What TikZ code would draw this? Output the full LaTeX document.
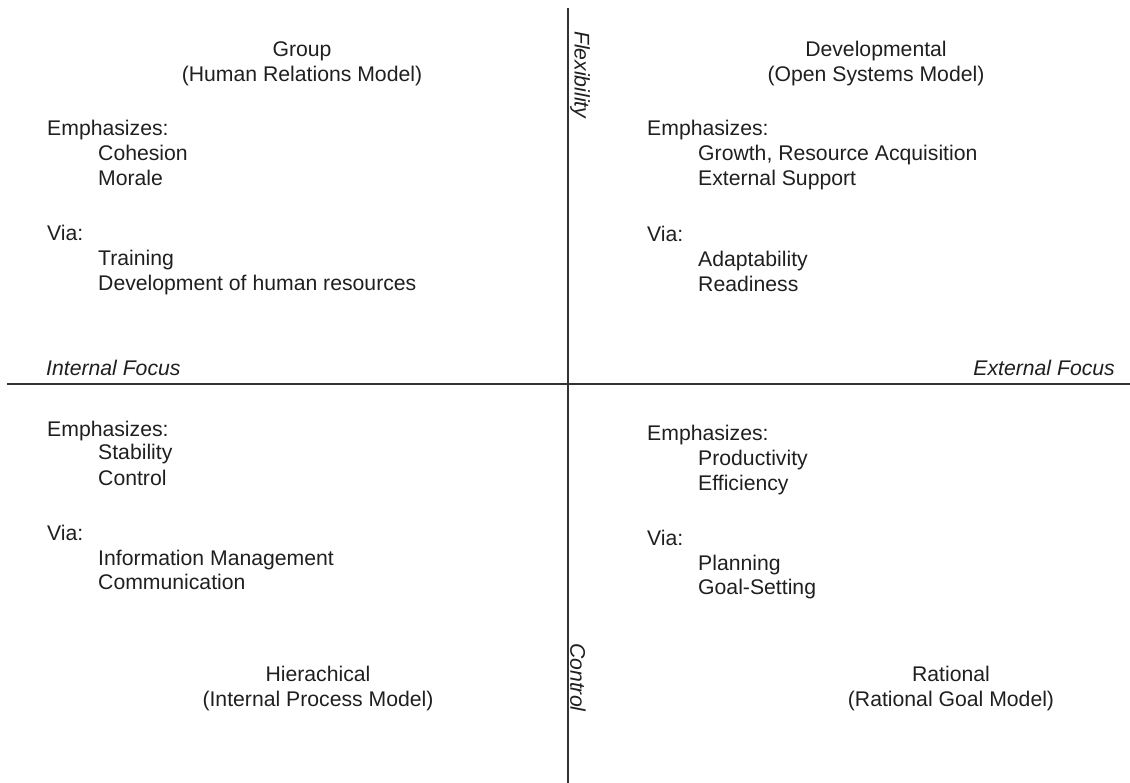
\documentclass[tikz,border=0pt]{standalone}
\usepackage{fontspec}
\setmainfont{Liberation Sans}
\begin{document}
\begin{tikzpicture}[x=1pt,y=-1pt,
  txt/.style={inner sep=0pt,anchor=base west,font=\fontsize{21.2}{25}\selectfont,text=black!88},
  ttl/.style={inner sep=0pt,anchor=base,font=\fontsize{21.2}{25}\selectfont,text=black!88},
  axl/.style={inner sep=0pt,font=\fontsize{21.2}{25}\selectfont\itshape,text=black!88},
  axis/.style={line width=1.4pt,draw=black!80}]
\useasboundingbox (0,0) rectangle (1130,783);
\coordinate (vt) at (568,8);
\coordinate (vb) at (568,783);
\coordinate (hl) at (7,384);
\coordinate (hr) at (1130,384);
\draw[axis] (vt) -- (vb);
\draw[axis] (hl) -- (hr);
% axis labels
\node[axl,rotate=-90,anchor=south west] (flex) at (570,31) {Flexibility};
\node[axl,rotate=-90,anchor=south west] (ctrl) at (570,643) {Control};
\node[axl,anchor=base west] (intf) at (46,376) {Internal Focus};
\node[axl,anchor=base east] (extf) at (1115,376) {External Focus};
% top left
\node[ttl] (g1) at (302,57) {Group};
\node[ttl] (g2) at (302,82) {(Human Relations Model)};
\node[txt] (a1) at (47,136) {Emphasizes:};
\node[txt] (a2) at (98,161) {Cohesion};
\node[txt] (a3) at (98,186) {Morale};
\node[txt] (a4) at (47,241) {Via:};
\node[txt] (a5) at (98,266) {Training};
\node[txt] (a6) at (98,291) {Development of human resources};
% top right
\node[ttl] (d1) at (876,57) {Developmental};
\node[ttl] (d2) at (876,82) {(Open Systems Model)};
\node[txt] (b1) at (647,136) {Emphasizes:};
\node[txt] (b2) at (698,161) {Growth, Resource Acquisition};
\node[txt] (b3) at (698,186) {External Support};
\node[txt] (b4) at (647,242) {Via:};
\node[txt] (b5) at (698,267) {Adaptability};
\node[txt] (b6) at (698,292) {Readiness};
% bottom left
\node[txt] (c1) at (47,436) {Emphasizes:};
\node[txt] (c2) at (98,460) {Stability};
\node[txt] (c3) at (98,485) {Control};
\node[txt] (c4) at (47,540) {Via:};
\node[txt] (c5) at (98,565) {Information Management};
\node[txt] (c6) at (98,589) {Communication};
\node[ttl] (h1) at (318,681) {Hierachical};
\node[ttl] (h2) at (318,706) {(Internal Process Model)};
% bottom right
\node[txt] (e1) at (647,441) {Emphasizes:};
\node[txt] (e2) at (698,465) {Productivity};
\node[txt] (e3) at (698,490) {Efficiency};
\node[txt] (e4) at (647,545) {Via:};
\node[txt] (e5) at (698,570) {Planning};
\node[txt] (e6) at (698,594) {Goal-Setting};
\node[ttl] (r1) at (951,681) {Rational};
\node[ttl] (r2) at (951,706) {(Rational Goal Model)};
\end{tikzpicture}
\end{document}
